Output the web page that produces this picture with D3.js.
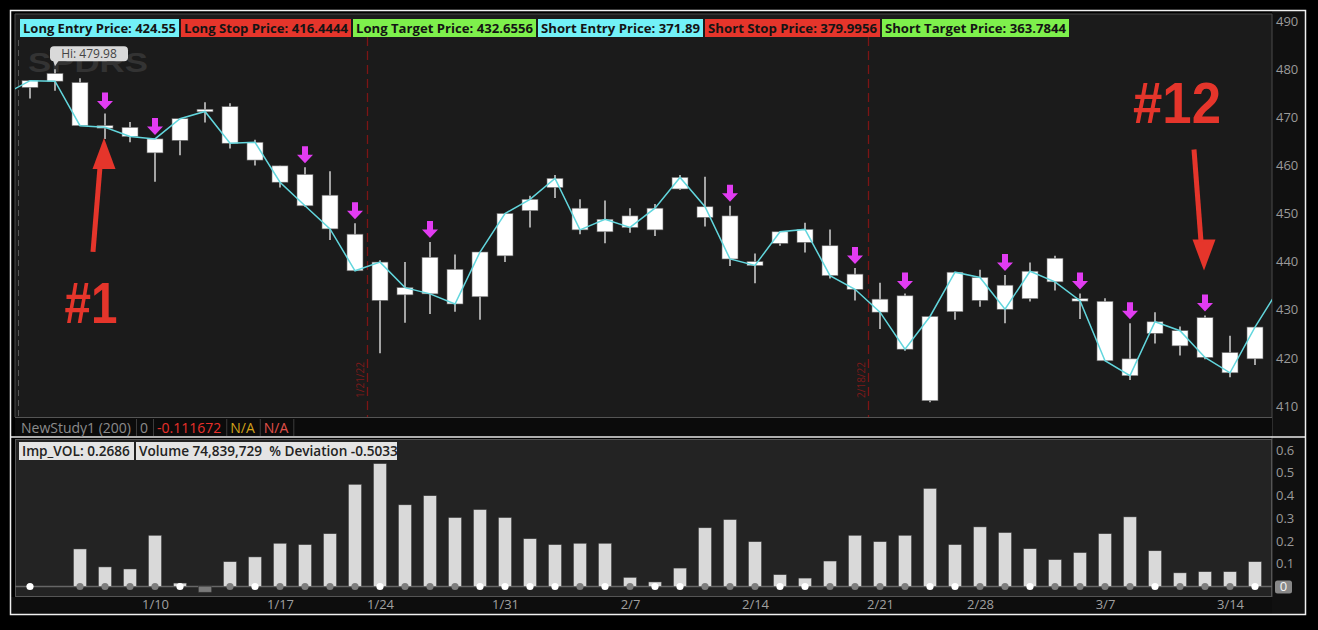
<!DOCTYPE html>
<html><head><meta charset="utf-8">
<script src="https://cdn.jsdelivr.net/npm/d3@7"></script>
<style>html,body{margin:0;padding:0;background:#000;overflow:hidden}</style>
</head><body><svg id="c" width="1318" height="630"></svg>
<script>
// ---------- DATA ----------
const dates = ["1/3","1/4","1/5","1/6","1/7","1/10","1/11","1/12","1/13","1/14",
  "1/18","1/19","1/20","1/21","1/24","1/25","1/26","1/27","1/28","1/31",
  "2/1","2/2","2/3","2/4","2/7","2/8","2/9","2/10","2/11","2/14",
  "2/15","2/16","2/17","2/18","2/22","2/23","2/24","2/25","2/28","3/1",
  "3/2","3/3","3/4","3/7","3/8","3/9","3/10","3/11","3/14","3/15"];
const openP  = [476.2,479.1,477.2,468.1,467.9,462.6,465.2,471.6,472.2,461.1,
  459.9,458.1,453.8,445.7,431.95,433.1,440.9,438.4,432.7,441.2,
  450.6,455.4,451.1,446.2,449.5,446.6,455.1,449.2,449.5,440.0,
  443.8,444.0,443.3,437.4,432.2,432.9,411.1,429.6,431.96,435.1,
  432.3,440.7,432.2,431.75,419.8,425.1,422.5,428.35,421.1,419.8];
const highP  = [477.6,479.98,478.1,470.8,469.0,465.5,469.7,473.1,472.9,465.3,
  459.9,459.6,458.8,448.0,440.3,439.9,444.1,441.5,442.0,450.0,
  453.7,458.0,452.95,452.7,451.1,452.0,458.0,457.65,451.6,441.7,
  446.2,448.1,446.7,438.7,435.6,433.4,428.6,437.8,438.3,437.2,
  439.8,441.2,433.4,432.4,427.2,429.5,426.5,428.8,424.6,426.4];
const lowP   = [473.9,475.5,468.2,465.5,464.8,456.6,462.1,468.9,463.5,460.0,
  455.4,451.4,444.5,438.1,420.95,427.3,429.1,429.6,427.9,439.9,
  447.1,453.2,445.7,443.8,446.0,445.3,454.9,447.3,439.1,435.5,
  443.3,441.9,436.5,431.9,426.0,421.5,410.8,427.9,430.6,427.2,
  431.7,434.0,428.1,419.4,415.4,423.0,420.5,419.7,416.0,418.5];
const closeP = [477.6,477.5,468.25,467.9,466.0,465.5,469.7,471.2,464.6,464.8,
  456.5,451.6,446.8,438.1,439.9,434.6,433.3,431.2,442.0,450.0,
  452.95,457.3,446.6,448.8,447.1,451.1,457.5,451.4,440.55,439.2,
  446.2,446.7,437.1,434.25,429.5,421.8,428.6,437.8,436.7,430.1,
  438.0,435.8,431.9,419.4,416.3,427.5,425.65,420.1,416.9,426.4];
const prevClose = 474.8, nextClose = 434.7;
const signalIdx = [3,5,11,13,16,28,33,35,39,42,44,47];
const impVol = [0,null,0.165,0.086,0.077,0.225,0.015,-0.025,0.109,0.13,
  0.19,0.184,0.232,0.449,0.54,0.359,0.399,0.303,0.338,0.303,
  0.21,0.184,0.19,0.19,0.04,0.02,0.081,0.258,0.294,0.197,
  0.052,0.037,0.112,0.225,0.197,0.225,0.431,0.184,0.262,0.237,
  0.166,0.118,0.149,0.232,0.306,0.157,0.06,0.065,0.065,0.109];
const dotType = [1,null,0,0,0,0,1,null,0,1,
  0,0,0,0,1,0,0,0,1,1,
  1,1,0,1,0,1,1,0,0,0,
  1,1,0,0,0,0,1,1,0,0,
  1,0,0,0,0,1,0,0,0,1];
const priceTicks = [410,420,430,440,450,460,470,480,490];
const volTicks = [0.1,0.2,0.3,0.4,0.5,0.6];
const dateTickDates  = ["1/10","1/18","1/24","1/31","2/7","2/14","2/22","2/28","3/7","3/14"];
const dateTickLabels = ["1/10","1/17","1/24","1/31","2/7","2/14","2/21","2/28","3/7","3/14"];
const eventDates = ["1/21","2/18"];
const eventLabels = ["1/21/22","2/18/22"];
const topLabels = ["Long Entry Price: 424.55","Long Stop Price: 416.4444","Long Target Price: 432.6556",
  "Short Entry Price: 371.89","Short Stop Price: 379.9956","Short Target Price: 363.7844"];
const topColors = ["#72f1f7","#e5352b","#7ef04c","#72f1f7","#e5352b","#7ef04c"];
const topWidths = [159,170,183,165,175,187];
const statusTexts = ["NewStudy1 (200)","0","-0.111672","N/A","N/A"];
const statusColors = ["#8c8c8c","#8c8c8c","#e8302a","#d2a21a","#e0504a"];
const lowerLabels = ["Imp_VOL: 0.2686","Volume 74,839,729  % Deviation -0.5033"];
const lowerWidths = [115,261];
const hiLabel = "Hi: 479.98";

// ---------- LAYOUT ----------
const svg = d3.select("#c");
const PL = 15, PR = 1272, UT = 14, UB = 417, LT = 439, LB = 597;
const x = d3.scaleLinear().domain([0, 49]).range([30, 1255]);
const y = d3.scaleLinear().domain([410, 490]).range([406, 21]);
const yv = d3.scaleLinear().domain([0, 0.6]).range([586.5, 450]);
const FONT = "'Open Sans','Noto Sans',sans-serif";

svg.append("rect").attr("width",1318).attr("height",630).attr("fill","#000");
svg.append("rect").attr("x",PR).attr("y",11).attr("width",1305-PR).attr("height",603).attr("fill","#101010");
svg.append("rect").attr("x",11).attr("y",LB).attr("width",PR-11).attr("height",614-LB).attr("fill","#0d0d0d");
svg.append("rect").attr("x",PL).attr("y",UT).attr("width",PR-PL).attr("height",UB-UT).attr("fill","#1b1b1b");
svg.append("line").attr("x1",PL).attr("x2",PR).attr("y1",UT).attr("y2",UT).attr("stroke","#4a4a4a");
svg.append("line").attr("x1",PL).attr("x2",PL).attr("y1",UT).attr("y2",UB).attr("stroke","#4a4a4a");
svg.append("line").attr("x1",PR).attr("x2",PR).attr("y1",UT).attr("y2",LB).attr("stroke","#4a4a4a");
svg.append("rect").attr("x",PL).attr("y",UB).attr("width",PR-PL).attr("height",19).attr("fill","#0b0b0b");
svg.append("line").attr("x1",PL).attr("x2",PR).attr("y1",UB+0.5).attr("y2",UB+0.5).attr("stroke","#555");
svg.append("rect").attr("x",PL+0.5).attr("y",LT+0.5).attr("width",PR-PL-1).attr("height",LB-LT-1)
  .attr("fill","#232323").attr("stroke","#555");
svg.append("line").attr("x1",11).attr("x2",1305).attr("y1",437).attr("y2",437).attr("stroke","#e8e8e8").attr("stroke-width",1.5);
svg.append("rect").attr("x",10.5).attr("y",10.5).attr("width",1295).attr("height",604)
  .attr("fill","none").attr("stroke","#f0f0f0").attr("stroke-width",1.5);

svg.append("clipPath").attr("id","up").append("rect").attr("x",PL).attr("y",UT).attr("width",PR-PL).attr("height",UB-UT);
const up = svg.append("g").attr("clip-path","url(#up)");

// watermark
up.append("text").attr("x",28).attr("y",72).text("SPDRS").attr("font-family","'Liberation Sans',Arial,sans-serif")
  .attr("font-weight","bold").attr("font-size",28).attr("fill","#333").attr("textLength",120).attr("lengthAdjust","spacingAndGlyphs");

up.append("line").attr("x1",18.5).attr("x2",18.5).attr("y1",40).attr("y2",UB).attr("stroke","#555").attr("stroke-dasharray","6,4");

eventDates.forEach((d,k) => {
  const ex = Math.round(x(dates.indexOf(d) + 0.5)) + 0.5;
  up.append("line").attr("x1",ex).attr("x2",ex).attr("y1",37).attr("y2",UB).attr("stroke","#7c1515")
    .attr("stroke-width",1.3).attr("stroke-dasharray","9,5");
  up.append("text").attr("transform",`translate(${ex-4},398) rotate(-90)`).text(eventLabels[k])
    .attr("font-family",FONT).attr("font-size",11.5).attr("fill","#7c1a1a").attr("textLength",36).attr("lengthAdjust","spacingAndGlyphs");
});

const idx = d3.range(dates.length);
up.selectAll(".wick").data(idx).join("line").attr("class","wick")
  .attr("x1",i=>x(i)).attr("x2",i=>x(i)).attr("y1",i=>y(highP[i])).attr("y2",i=>y(lowP[i]))
  .attr("stroke","#bdbdbd").attr("stroke-width",1.7);
up.selectAll(".body").data(idx).join("rect").attr("class","body")
  .attr("x",i=>x(i)-8).attr("width",16)
  .attr("y",i=>{const t=y(Math.max(openP[i],closeP[i])), b=y(Math.min(openP[i],closeP[i])); return b-t<2.5?(t+b)/2-1.25:t;})
  .attr("height",i=>Math.max(2.5, y(Math.min(openP[i],closeP[i]))-y(Math.max(openP[i],closeP[i]))))
  .attr("fill","#ffffff").attr("stroke","#6a6a6a").attr("stroke-width",0.6);

const lineData = [{i:-1,v:prevClose}].concat(idx.map(i=>({i,v:closeP[i]}))).concat([{i:dates.length,v:nextClose}]);
up.append("path").datum(lineData).attr("d", d3.line().x(d=>x(d.i)).y(d=>y(d.v)))
  .attr("fill","none").attr("stroke","#62d6dd").attr("stroke-width",1.5);

signalIdx.forEach(i => {
  const cx = x(i), tip = y(highP[i]) - 4;
  up.append("path").attr("d",`M${cx-3},${tip-17}H${cx+3}V${tip-8.5}H${cx+8}L${cx},${tip}L${cx-8},${tip-8.5}H${cx-3}Z`)
    .attr("fill","#e23cf2");
});

{
  const hi = d3.max(highP), hiI = highP.indexOf(hi), hx = x(hiI), hy = y(hi);
  up.append("path").attr("d",`M${hx-2},${hy-9}L${hx+4},${hy-9}L${hx},${hy-3}Z`).attr("fill","#d9d9d9");
  up.append("rect").attr("x",hx-5).attr("y",hy-23).attr("width",78).attr("height",15).attr("rx",4).attr("fill","#d9d9d9");
  up.append("text").attr("x",hx+34).attr("y",hy-11.5).attr("text-anchor","middle").text(hiLabel)
    .attr("font-family",FONT).attr("font-size",12).attr("fill","#444");
}

{
  let lx = 20;
  topLabels.forEach((t,k) => {
    svg.append("rect").attr("x",lx).attr("y",19).attr("width",topWidths[k]).attr("height",18).attr("fill",topColors[k]);
    svg.append("text").attr("x",lx+3).attr("y",32.5).text(t).attr("font-family",FONT).attr("font-weight","bold")
      .attr("font-size",12).attr("fill","#141414").attr("textLength",topWidths[k]-6).attr("lengthAdjust","spacingAndGlyphs");
    lx += topWidths[k] + 2;
  });
}

{
  const red = "#e5352b";
  const t1x = x(signalIdx[0]) - 1, t1y = y(lowP[signalIdx[0]]) - 1;
  svg.append("path").attr("d",`M${t1x},${t1y}L${t1x+11.5},${t1y+31}L${t1x-11.5},${t1y+31}Z`).attr("fill",red);
  svg.append("line").attr("x1",t1x-4).attr("y1",t1y+29).attr("x2",t1x-11).attr("y2",t1y+114).attr("stroke",red).attr("stroke-width",5);
  svg.append("text").attr("x",t1x-13).attr("y",t1y+185).attr("text-anchor","middle").text("#1")
    .attr("font-family","'Liberation Sans',Arial,sans-serif").attr("font-weight","bold").attr("font-size",58)
    .attr("fill",red).attr("textLength",53).attr("lengthAdjust","spacingAndGlyphs");
  const i12 = signalIdx[signalIdx.length-1];
  const t2x = x(i12) - 1, t2y = y(highP[i12]) - 45;
  svg.append("path").attr("d",`M${t2x},${t2y}L${t2x+11.5},${t2y-31}L${t2x-11.5},${t2y-31}Z`).attr("fill",red);
  svg.append("line").attr("x1",t2x-3).attr("y1",t2y-29).attr("x2",t2x-10).attr("y2",t2y-121).attr("stroke",red).attr("stroke-width",5);
  svg.append("text").attr("x",t2x-27).attr("y",t2y-148).attr("text-anchor","middle").text("#12")
    .attr("font-family","'Liberation Sans',Arial,sans-serif").attr("font-weight","bold").attr("font-size",58)
    .attr("fill",red).attr("textLength",88).attr("lengthAdjust","spacingAndGlyphs");
}

const pa = svg.append("g").attr("transform",`translate(${PR},0)`)
  .call(d3.axisRight(y).tickValues(priceTicks).tickSize(0).tickPadding(4));
pa.select(".domain").remove();
pa.selectAll("text").attr("font-family",FONT).attr("font-size",13).attr("fill","#9a9a9a");

{
  let sx = PL + 2;
  statusTexts.forEach((t,k) => {
    const tx = svg.append("text").attr("x",sx+4).attr("y",432.5).text(t).attr("font-family",FONT)
      .attr("font-size",14).attr("fill",statusColors[k]);
    const w = tx.node().getComputedTextLength() + 9;
    sx += w;
    svg.append("line").attr("x1",sx+0.5).attr("x2",sx+0.5).attr("y1",419).attr("y2",436).attr("stroke","#3c3c3c");
  });
}

svg.append("clipPath").attr("id","lo").append("rect").attr("x",PL).attr("y",LT).attr("width",PR-PL).attr("height",LB-LT);
const lo = svg.append("g").attr("clip-path","url(#lo)");
lo.append("line").attr("x1",PL).attr("x2",PR).attr("y1",yv(0)).attr("y2",yv(0)).attr("stroke","#666").attr("stroke-width",1.5);
lo.selectAll(".vb").data(idx.filter(i=>impVol[i]!==null && impVol[i]!==0)).join("rect").attr("class","vb")
  .attr("x",i=>x(i)-6.5).attr("width",13)
  .attr("y",i=>Math.min(yv(impVol[i]),yv(0))).attr("height",i=>Math.abs(yv(impVol[i])-yv(0)))
  .attr("fill",i=>impVol[i]<0?"#7a7a7a":"#d9d9d9").attr("stroke","#3a3a3a").attr("stroke-width",0.5);
lo.selectAll(".dot").data(idx.filter(i=>dotType[i]!==null)).join("circle").attr("class","dot")
  .attr("cx",i=>x(i)).attr("cy",yv(0)).attr("r",3.6)
  .attr("fill",i=>dotType[i]===1?"#ffffff":"#7c7c7c");

{
  let lx = 19;
  lowerLabels.forEach((t,k) => {
    const cid = "ll"+k;
    svg.append("clipPath").attr("id",cid).append("rect").attr("x",lx).attr("y",442).attr("width",lowerWidths[k]).attr("height",18);
    svg.append("rect").attr("x",lx).attr("y",442).attr("width",lowerWidths[k]).attr("height",18).attr("fill","#e4e4e4");
    svg.append("text").attr("x",lx+3).attr("y",456).text(t).attr("clip-path",`url(#${cid})`).style("white-space","pre")
      .attr("font-family",FONT).attr("font-weight",600).attr("font-size",13.6).attr("fill","#222");
    lx += lowerWidths[k] + 2;
  });
}

const va = svg.append("g").attr("transform",`translate(${PR},0)`)
  .call(d3.axisRight(yv).tickValues(volTicks).tickFormat(d3.format(".1f")).tickSize(0).tickPadding(4));
va.select(".domain").remove();
va.selectAll("text").attr("font-family",FONT).attr("font-size",13).attr("fill","#9a9a9a");
svg.append("rect").attr("x",PR+3).attr("y",yv(0)-6).attr("width",17).attr("height",13).attr("rx",2.5).attr("fill","#888");
svg.append("text").attr("x",PR+11.5).attr("y",yv(0)+4.5).attr("text-anchor","middle").text("0")
  .attr("font-family",FONT).attr("font-size",13).attr("fill","#f4f4f4");

const da = svg.append("g").attr("transform",`translate(0,${LB})`)
  .call(d3.axisBottom(x).tickValues(dateTickDates.map(d=>dates.indexOf(d))).tickFormat((d,k)=>dateTickLabels[k]).tickSize(0).tickPadding(3));
da.select(".domain").remove();
da.selectAll("text").attr("font-family",FONT).attr("font-size",13).attr("fill","#a0a0a0");
</script>
</body></html>
